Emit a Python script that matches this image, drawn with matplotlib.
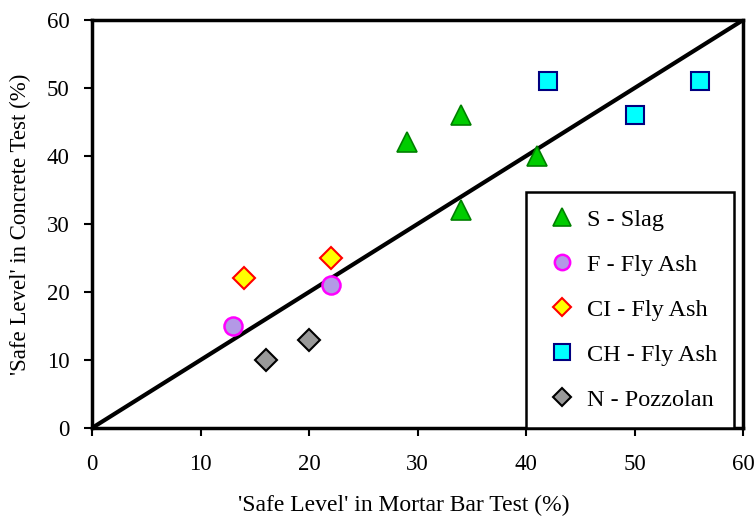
import numpy as np
import matplotlib.pyplot as plt

plt.rcParams['font.family'] = ['Liberation Serif', 'DejaVu Serif']

# data (mortar bar %, concrete %)
slag_x = [29, 34, 34, 41]
slag_y = [42, 46, 32, 40]
f_x = [13, 22]
f_y = [15, 21]
ci_x = [14, 22]
ci_y = [22, 25]
ch_x = [42, 50, 56]
ch_y = [51, 46, 51]
n_x = [16, 20]
n_y = [10, 13]

fig = plt.figure(figsize=(7.56, 5.21), dpi=100)
ax = fig.add_axes([0.1217, 0.1785, 0.8613, 0.7831])

# line of equality
ax.plot([0, 60], [0, 60], color='k', lw=3, zorder=1)

ax.plot(slag_x, slag_y, ls='none', marker='^', ms=15, mfc='#00cc00', mec='#008000', mew=1.2, label='S - Slag')
ax.plot(f_x, f_y, ls='none', marker='o', ms=13, mfc='#b399e6', mec='#ff00ff', mew=1.8, label='F - Fly Ash')
ax.plot(ci_x, ci_y, ls='none', marker='D', ms=11, mfc='#ffff00', mec='#ff0000', mew=1.5, label='CI - Fly Ash')
ax.plot(ch_x, ch_y, ls='none', marker='s', ms=13, mfc='#00ffff', mec='#000080', mew=1.5, label='CH - Fly Ash')
ax.plot(n_x, n_y, ls='none', marker='D', ms=11, mfc='#999999', mec='#000000', mew=1.5, label='N - Pozzolan')

ax.set_xlim(0, 60)
ax.set_ylim(0, 60)
ax.set_xticks(np.arange(0, 61, 10))
ax.set_yticks(np.arange(0, 61, 10))
ax.tick_params(direction='out', length=6, width=1.5, labelsize=16.5)
ax.tick_params(axis='x', pad=13)
ax.tick_params(axis='y', pad=10)
for s in ax.spines.values():
    s.set_linewidth(2.5)

ax.set_xlabel("'Safe Level' in Mortar Bar Test (%)", fontsize=17)
ax.set_ylabel("'Safe Level' in Concrete Test (%)", fontsize=16.5)
ax.xaxis.set_label_coords(0.479, -0.165)
ax.yaxis.set_label_coords(-0.094, 0.5)

leg = ax.legend(loc='lower left', bbox_to_anchor=(0.667, 0.0), fontsize=17.5,
                markerscale=0.85, labelspacing=0.95, handlelength=1.5,
                handletextpad=0.3, borderpad=0.7, fancybox=False,
                framealpha=1, edgecolor='k', borderaxespad=0)
leg.get_frame().set_linewidth(1.8)

fig.savefig('out.png', dpi=100)
